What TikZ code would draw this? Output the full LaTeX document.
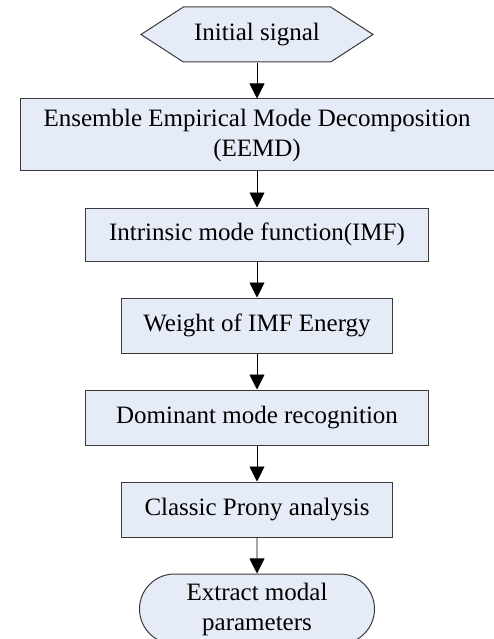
\documentclass[tikz,border=0pt]{standalone}
\usepackage{fontspec}
\setmainfont{Liberation Serif}
\usepackage{tikz}
\usetikzlibrary{positioning,arrows.meta,shapes.symbols,shapes.misc}

\definecolor{boxfill}{HTML}{E6ECF7}
\definecolor{boxline}{HTML}{3A3A3A}

\begin{document}
\begin{tikzpicture}[
    x=1pt, y=1pt,
    font=\fontsize{25}{30}\selectfont,
    node distance=36pt,
    box/.style={draw=boxline, fill=boxfill, line width=1pt, align=center, inner sep=0pt, minimum height=54pt},
    arr/.style={-{Triangle[length=15pt, width=15pt]}, line width=0.9pt, black},
]
\useasboundingbox (0,0) rectangle (494,-639);

\node[box, shape=signal, signal to=west and east, signal pointer angle=66, minimum width=232pt, minimum height=55pt] (init) at (257,-34.5) {Initial signal};
\node[box, minimum width=474pt, minimum height=72pt, below=of init] (eemd) {Ensemble Empirical Mode Decomposition\\(EEMD)};
\node[box, minimum width=343pt, minimum height=53pt, below=of eemd] (imf) {Intrinsic mode function(IMF)};
\node[box, minimum width=271pt, minimum height=55pt, below=of imf] (weight) {Weight of IMF Energy};
\node[box, minimum width=343pt, minimum height=55pt, below=of weight] (dom) {Dominant mode recognition};
\node[box, minimum width=271pt, minimum height=55pt, below=of dom] (prony) {Classic Prony analysis};
\node[box, shape=rounded rectangle, minimum width=235pt, minimum height=70pt, below=of prony] (extract) {Extract modal\\parameters};

\draw[arr] (init) -- (eemd);
\draw[arr] (eemd) -- (imf);
\draw[arr] (imf) -- (weight);
\draw[arr] (weight) -- (dom);
\draw[arr] (dom) -- (prony);
\draw[arr] (prony) -- (extract);
\end{tikzpicture}
\end{document}
